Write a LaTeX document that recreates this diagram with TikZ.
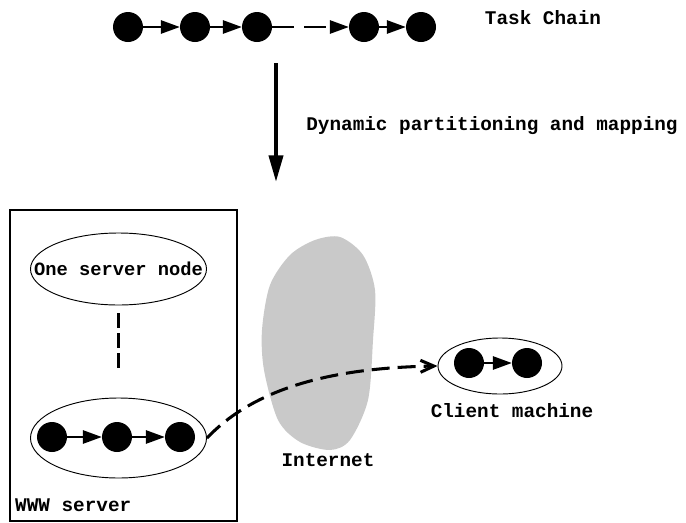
\documentclass[tikz,border=0pt]{standalone}
\usepackage{fontspec}
\setmainfont{Liberation Mono}
\usetikzlibrary{arrows.meta,shapes.geometric}

\begin{document}
\begin{tikzpicture}[x=0.03cm, y=-0.03cm,
    task/.style={circle, fill=black, minimum size=0.9cm, inner sep=0pt},
    link/.style={-{Triangle[length=0.57cm,width=0.4cm]}, line width=1.7pt},
    host/.style={ellipse, draw, line width=0.8pt, inner sep=0pt},
    lbl/.style={font=\fontsize{16.5}{18}\selectfont\bfseries, inner sep=0pt}]
    \useasboundingbox (0,0) rectangle (686,523);

    % task chain on top
    \node[task] (t1) at (128,27) {};
    \node[task] (t2) at (195,27) {};
    \node[task] (t3) at (257,27) {};
    \node[task] (t4) at (364,27) {};
    \node[task] (t5) at (421,27) {};
    \draw[link] (t1) -- (t2);
    \draw[link] (t2) -- (t3);
    \draw[link, dash pattern=on 0.66cm off 0.3cm] (t3) -- (t4);
    \draw[link] (t4) -- (t5);
    \node[lbl] (title) at (543,18) {Task Chain};

    % partitioning step
    \coordinate (split top) at (276,63);
    \coordinate (split end) at (276,182);
    \draw[line width=3.4pt, -{Triangle[length=0.8cm,width=0.42cm]}] (split top) -- (split end);
    \node[lbl] (step label) at (492,126) {Dynamic partitioning and mapping};

    % web server box
    \node[draw, line width=2.4pt, minimum width=6.81cm, minimum height=9.33cm] (www) at (123.5,365.5) {};
    \node[lbl, anchor=west] (www label) at (15,505) {WWW server};
    \node[host, minimum width=5.28cm, minimum height=2.16cm] (srv) at (118.5,269) {};
    \node[lbl, font=\fontsize{16}{18}\selectfont\bfseries] (srv label) at (srv.center) {One server node};
    \node[host, minimum width=5.28cm, minimum height=2.4cm] (chain) at (118.5,438) {};
    \draw[line width=3.4pt, dash pattern=on 0.45cm off 0.15cm,
          shorten <=0.24cm, shorten >=0.84cm] (srv) -- (chain);
    \node[task] (c1) at (52,437) {};
    \node[task] (c2) at (117,437) {};
    \node[task] (c3) at (180,437) {};
    \draw[link] (c1) -- (c2);
    \draw[link] (c2) -- (c3);

    % internet cloud
    \fill[gray!42] plot[smooth cycle] coordinates {(340,237) (363,255) (375,290)
        (373,340) (368,400) (350,440) (330,450) (300,442) (278,420) (264,370)
        (262,330) (270,285) (290,255) (315,240)};
    \node[lbl] (net) at (328,460) {Internet};

    % client side
    \node[host, minimum width=3.72cm, minimum height=1.68cm] (client) at (500,366) {};
    \node[task] (k1) at (469,363) {};
    \node[task] (k2) at (527,363) {};
    \draw[link] (k1) -- (k2);
    \node[lbl] (client label) at (512,411) {Client machine};

    % download over the net
    \draw[line width=2.6pt, dash pattern=on 0.54cm off 0.24cm,
          -{Straight Barb[length=0.4cm,width=0.36cm]}]
        (chain.east) .. controls (250,393) and (320,368) .. (client.west);
\end{tikzpicture}
\end{document}
